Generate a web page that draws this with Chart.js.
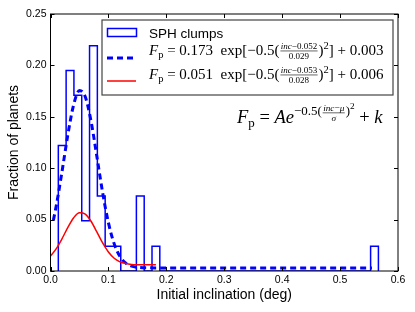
<!DOCTYPE html>
<html>
<head>
<meta charset="utf-8">
<script src="https://cdn.jsdelivr.net/npm/chart.js@4.4.0/dist/chart.umd.min.js"></script>
<style>
  html, body { margin: 0; padding: 0; background: #fff; }
</style>
</head>
<body>
<canvas id="chart" width="415" height="312"></canvas>
<script>
// histogram: 41 equal bins starting at histStart, fraction of planets per bin
const histStart = 0.0135;
const histWidth = 0.01348;
const histFrac = [
  0.122, 0.195, 0.171, 0.049, 0.219, 0.073, 0.024, 0.024, 0, 0,
  0.073, 0, 0.024, 0, 0, 0, 0, 0, 0, 0,
  0, 0, 0, 0, 0, 0, 0, 0, 0, 0,
  0, 0, 0, 0, 0, 0, 0, 0, 0, 0,
  0.024
];

// gaussian fit, all clumps (dashed)
const fitAllX = [0.005, 0.01, 0.02, 0.03, 0.04, 0.05, 0.06, 0.07, 0.08, 0.09,
  0.10, 0.11, 0.12, 0.13, 0.14, 0.15, 0.16, 0.20, 0.555];
const fitAllY = [0.0495, 0.0636, 0.0971, 0.1327, 0.1618, 0.1756, 0.1695, 0.1457, 0.1116, 0.0763,
  0.0470, 0.0264, 0.0141, 0.0077, 0.0047, 0.0036, 0.0032, 0.0030, 0.0030];

// gaussian fit, planets (solid red)
const fitPlX = [0, 0.01, 0.02, 0.03, 0.04, 0.05, 0.06, 0.07, 0.08, 0.09,
  0.10, 0.11, 0.12, 0.13, 0.14, 0.15, 0.16, 0.182];
const fitPlY = [0.0145, 0.0217, 0.0315, 0.0424, 0.0518, 0.0567, 0.0554, 0.0484, 0.0380, 0.0273,
  0.0185, 0.0124, 0.0089, 0.0072, 0.0064, 0.0061, 0.0060, 0.0060];

const xTicks = [0, 0.1, 0.2, 0.3, 0.4, 0.5, 0.6];
const yTicks = [0, 0.05, 0.10, 0.15, 0.20, 0.25];

const sans = '"Liberation Sans", Arial, sans-serif';
const serif = '"Liberation Serif", "DejaVu Serif", serif';

// step outline points for the histogram
const histPts = [{ x: histStart, y: 0 }];
histFrac.forEach((f, i) => histPts.push({ x: histStart + i * histWidth, y: f }));
histPts.push({ x: histStart + histFrac.length * histWidth, y: 0 });

const toPts = (xs, ys) => xs.map((x, i) => ({ x: x, y: ys[i] }));

// tiny mathtext-ish renderer: tokens with size scale s, baseline shift dy, fractions
function rich(ctx, toks, x, y, size, draw) {
  let cx = x;
  toks.forEach(tok => {
    const sz = size * (tok.s || 1);
    if (tok.num) {
      const wn = rich(ctx, tok.num, 0, 0, sz, false);
      const wd = rich(ctx, tok.den, 0, 0, sz, false);
      const w = Math.max(wn, wd) + sz * 0.3;
      if (draw) {
        const ay = y + tok.ax * size;
        rich(ctx, tok.num, cx + (w - wn) / 2, ay - sz * 0.25, sz, true);
        rich(ctx, tok.den, cx + (w - wd) / 2, ay + sz * 0.85, sz, true);
        ctx.beginPath();
        ctx.moveTo(cx + sz * 0.1, ay);
        ctx.lineTo(cx + w - sz * 0.1, ay);
        ctx.lineWidth = 0.6;
        ctx.strokeStyle = '#000';
        ctx.stroke();
      }
      cx += w;
    } else {
      ctx.font = (tok.i ? 'italic ' : '') + sz + 'px ' + serif;
      if (draw) ctx.fillText(tok.t, cx, y + (tok.dy || 0) * size);
      cx += ctx.measureText(tok.t).width;
    }
  });
  return cx - x;
}

const fitAllText = [
  { t: 'F', i: 1 }, { t: 'p', s: 0.7, dy: 0.2 }, { t: ' = 0.173  exp[\u22120.5(' },
  { num: [{ t: 'inc', i: 1 }, { t: '\u22120.052' }], den: [{ t: '0.029' }], s: 0.6, ax: -0.27 },
  { t: ')' }, { t: '2', s: 0.7, dy: -0.4 }, { t: '] + 0.003' }
];
const fitPlText = [
  { t: 'F', i: 1 }, { t: 'p', s: 0.7, dy: 0.2 }, { t: ' = 0.051  exp[\u22120.5(' },
  { num: [{ t: 'inc', i: 1 }, { t: '\u22120.053' }], den: [{ t: '0.028' }], s: 0.6, ax: -0.27 },
  { t: ')' }, { t: '2', s: 0.7, dy: -0.4 }, { t: '] + 0.006' }
];
const modelText = [
  { t: 'F', i: 1 }, { t: 'p', s: 0.7, dy: 0.2 }, { t: ' = ' }, { t: 'A', i: 1 }, { t: 'e', i: 1 },
  { t: '\u22120.5(', s: 0.7, dy: -0.45 },
  { num: [{ t: 'inc', i: 1 }, { t: '\u2212' }, { t: '\u03bc', i: 1 }], den: [{ t: '\u03c3', i: 1 }], s: 0.5, ax: -0.55 },
  { t: ')', s: 0.7, dy: -0.45 }, { t: '2', s: 0.5, dy: -0.75 }, { t: ' + ' }, { t: 'k', i: 1 }
];

const decor = {
  id: 'decor',
  afterDraw(chart) {
    const ctx = chart.ctx;
    const a = chart.chartArea;
    const xs = chart.scales.x, ys = chart.scales.y;
    ctx.save();
    ctx.strokeStyle = '#000';
    ctx.lineWidth = 1;
    ctx.strokeRect(a.left, a.top, a.right - a.left, a.bottom - a.top);
    ctx.beginPath();
    xTicks.forEach(v => {
      const px = Math.round(xs.getPixelForValue(v)) + 0.5;
      ctx.moveTo(px, a.bottom); ctx.lineTo(px, a.bottom - 4);
      ctx.moveTo(px, a.top); ctx.lineTo(px, a.top + 4);
    });
    yTicks.forEach(v => {
      const py = Math.round(ys.getPixelForValue(v)) + 0.5;
      ctx.moveTo(a.left, py); ctx.lineTo(a.left + 4, py);
      ctx.moveTo(a.right, py); ctx.lineTo(a.right - 4, py);
    });
    ctx.stroke();

    // legend
    ctx.fillStyle = '#fff';
    ctx.fillRect(102, 20, 291, 75);
    ctx.strokeStyle = '#444';
    ctx.lineWidth = 1.2;
    ctx.strokeRect(102, 20, 291, 75);

    ctx.strokeStyle = '#0000ff';
    ctx.lineWidth = 1.5;
    ctx.strokeRect(107.5, 28.5, 29, 8);
    ctx.fillStyle = '#000';
    ctx.textBaseline = 'alphabetic';
    ctx.font = '13.5px ' + sans;
    ctx.fillText('SPH clumps', 149, 38);

    ctx.beginPath();
    ctx.setLineDash([6, 4]);
    ctx.lineWidth = 3;
    ctx.moveTo(107, 58); ctx.lineTo(136, 58);
    ctx.stroke();
    ctx.setLineDash([]);
    rich(ctx, fitAllText, 149, 55, 15, true);

    ctx.beginPath();
    ctx.strokeStyle = '#ff0000';
    ctx.lineWidth = 1.5;
    ctx.moveTo(107, 81); ctx.lineTo(136, 81);
    ctx.stroke();
    rich(ctx, fitPlText, 149, 79, 15, true);

    rich(ctx, modelText, 237, 123, 18.5, true);
    ctx.restore();
  }
};

new Chart(document.getElementById('chart'), {
  type: 'line',
  data: {
    datasets: [
      {
        label: 'SPH clumps',
        data: histPts,
        stepped: true,
        borderColor: '#0000ff',
        borderWidth: 1.5,
        pointRadius: 0,
        fill: false,
        order: 3
      },
      {
        label: 'fit all',
        data: toPts(fitAllX, fitAllY),
        borderColor: '#0000ff',
        borderWidth: 3,
        borderDash: [6, 4],
        cubicInterpolationMode: 'monotone',
        pointRadius: 0,
        fill: false,
        order: 2
      },
      {
        label: 'fit planets',
        data: toPts(fitPlX, fitPlY),
        borderColor: '#ff0000',
        borderWidth: 1.5,
        cubicInterpolationMode: 'monotone',
        pointRadius: 0,
        fill: false,
        order: 1
      }
    ]
  },
  options: {
    responsive: false,
    animation: false,
    events: [],
    layout: { padding: { left: 0, right: 17, top: 14, bottom: 0 } },
    plugins: { legend: { display: false }, tooltip: { enabled: false } },
    scales: {
      x: {
        type: 'linear',
        min: 0, max: 0.6,
        afterBuildTicks: s => { s.ticks = xTicks.map(v => ({ value: v })); },
        afterFit: s => { s.height = 41; },
        grid: { display: false, drawTicks: false },
        border: { display: false },
        ticks: { padding: 3, color: '#000', maxRotation: 0, font: { family: sans, size: 10.5 }, callback: v => v.toFixed(1) },
        title: { display: true, text: 'Initial inclination (deg)', color: '#000', font: { family: sans, size: 14 }, padding: { top: 0, bottom: 8 } }
      },
      y: {
        type: 'linear',
        min: 0, max: 0.25,
        afterBuildTicks: s => { s.ticks = yTicks.map(v => ({ value: v })); },
        afterFit: s => { s.width = 50.5; },
        grid: { display: false, drawTicks: false },
        border: { display: false },
        ticks: { padding: 4, color: '#000', font: { family: sans, size: 10.5 }, callback: v => v.toFixed(2) },
        title: { display: true, text: 'Fraction of planets', color: '#000', font: { family: sans, size: 14 }, padding: { top: 6, bottom: 0 } }
      }
    }
  },
  plugins: [decor]
});
</script>
</body>
</html>
